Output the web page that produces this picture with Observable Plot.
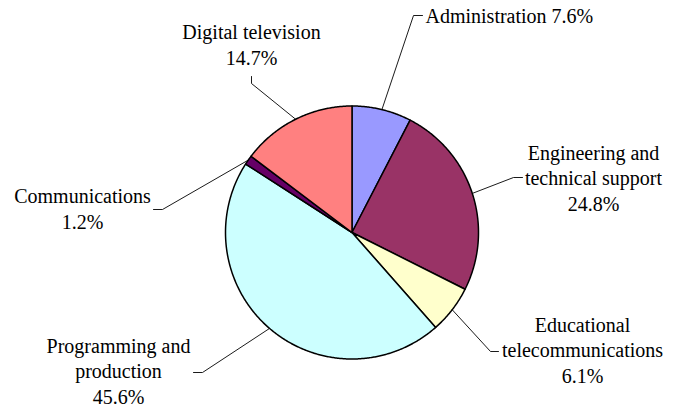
<!DOCTYPE html>
<html>
<head>
<meta charset="utf-8">
<script src="https://cdn.jsdelivr.net/npm/d3@7"></script>
<script src="https://cdn.jsdelivr.net/npm/@observablehq/plot@0.6"></script>
<style>
  html, body { margin: 0; padding: 0; background: #fff; }
  #chart svg { display: block; }
</style>
</head>
<body>
<div id="chart"></div>
<script>
// ---- data ----
const categories = [
  "Administration",
  "Engineering and\ntechnical support",
  "Educational\ntelecommunications",
  "Programming and\nproduction",
  "Communications",
  "Digital television"
];
const values = [7.6, 24.8, 6.1, 45.6, 1.2, 14.7];
const colors = ["#9999FF", "#993366", "#FFFFCC", "#CCFFFF", "#660066", "#FF8080"];
const labelSep = [" ", "\n", "\n", "\n", "\n", "\n"];

// ---- layout ----
const W = 681, H = 409;
const cx = 351.5, cy = 232, R = 126.5;
// leader elbow, tick end, label anchor (x, last-line baseline), text anchor
const labelLayout = [
  {elbow: [413, 15],  tick: [422, 15],  at: [425, 22.5], anchor: "start"},
  {elbow: [513, 177], tick: [522, 177], at: [593, 210],  anchor: "middle"},
  {elbow: [490, 351], tick: [498, 351], at: [582, 382],  anchor: "middle"},
  {elbow: [202, 372], tick: [193, 372], at: [118, 403],  anchor: "middle"},
  {elbow: [162, 209], tick: [153, 209], at: [82, 228],   anchor: "middle"},
  {elbow: [251, 83],  tick: [251, 76],  at: [251, 64],   anchor: "middle"}
];

// ---- build geometry from the data ----
const arcs = d3.pie().sort(null).value(d => d)(values);
const pt = (a, r) => [cx + r * Math.sin(a), cy - r * Math.cos(a)];

const slices = arcs.map((a, i) => {
  const pts = [[cx, cy]];
  const n = Math.max(2, Math.ceil((a.endAngle - a.startAngle) / (Math.PI / 360)));
  for (let k = 0; k <= n; k++) {
    pts.push(pt(a.startAngle + (a.endAngle - a.startAngle) * k / n, R));
  }
  pts.push([cx, cy]);
  return pts.map(p => ({x: p[0], y: p[1], i}));
});

const leaders = arcs.flatMap((a, i) => {
  const mid = (a.startAngle + a.endAngle) / 2;
  const e = pt(mid, R);
  const L = labelLayout[i];
  return [e, L.elbow, L.tick].map(p => ({x: p[0], y: p[1], i}));
});

const labels = categories.map((c, i) => ({
  text: c + labelSep[i] + values[i].toFixed(1) + "%",
  x: labelLayout[i].at[0],
  y: labelLayout[i].at[1],
  anchor: labelLayout[i].anchor
}));

const font = "Liberation Serif";

const chart = Plot.plot({
  width: W,
  height: H,
  margin: 0,
  x: {domain: [0, W], range: [0, W], axis: null},
  y: {domain: [0, H], range: [0, H], axis: null},
  style: {background: "#fff", fontFamily: font},
  marks: [
    ...slices.map((s, i) => Plot.line(s, {
      x: "x", y: "y", fill: colors[i], stroke: "#000", strokeWidth: 1.5,
      strokeLinejoin: "round"
    })),
    Plot.line(leaders, {x: "x", y: "y", z: "i", stroke: "#000", strokeWidth: 0.9}),
    Plot.text(labels.filter(d => d.anchor === "start"), {
      x: "x", y: "y", text: "text", textAnchor: "start", lineAnchor: "bottom",
      fontSize: 20, lineHeight: 1.27, fill: "#000", fontFamily: font
    }),
    Plot.text(labels.filter(d => d.anchor === "middle"), {
      x: "x", y: "y", text: "text", textAnchor: "middle", lineAnchor: "bottom",
      fontSize: 20, lineHeight: 1.27, fill: "#000", fontFamily: font
    })
  ]
});
document.getElementById("chart").appendChild(chart);
</script>
</body>
</html>
